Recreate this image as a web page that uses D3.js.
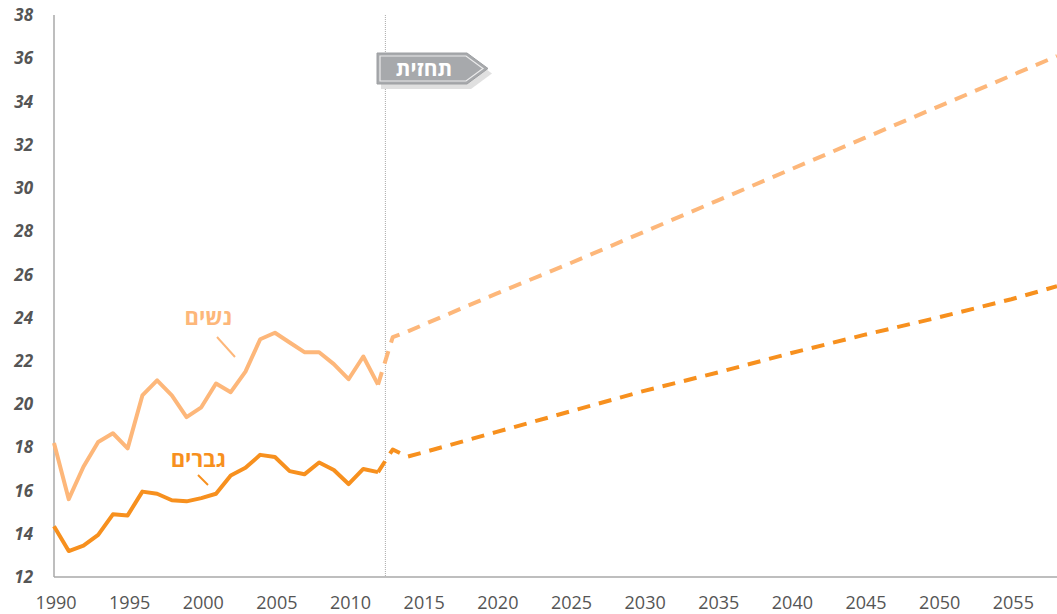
<!DOCTYPE html>
<html>
<head>
<meta charset="utf-8">
<script src="https://cdn.jsdelivr.net/npm/d3@7"></script>
<style>
  body { margin: 0; background: #fff; }
  svg { display: block; font-family: "Open Sans", "Noto Sans", sans-serif; }
</style>
</head>
<body>
<div id="chart"></div>
<script>
// actual values, 1990-2012
const years = d3.range(1990, 2013);
const women = [18.2, 15.6, 17.1, 18.25, 18.65, 17.95, 20.4, 21.1, 20.4, 19.4, 19.85,
  20.95, 20.55, 21.5, 23.0, 23.3, 22.85, 22.4, 22.4, 21.85, 21.15, 22.2, 20.9];
const men = [14.35, 13.2, 13.45, 13.95, 14.9, 14.85, 15.95, 15.85, 15.55, 15.5, 15.65,
  15.85, 16.7, 17.05, 17.65, 17.55, 16.9, 16.75, 17.3, 16.95, 16.3, 17.0, 16.85];

// forecast (dashed)
const forecastYears = [2012, 2013, 2014, 2015, 2020, 2025, 2030, 2035, 2040, 2045, 2050, 2055, 2058.1];
const womenForecast = [20.9, 23.1, 23.35, 23.65, 25.1, 26.5, 27.95, 29.4, 30.85, 32.3, 33.75, 35.2, 36.1];
const menForecast = [16.85, 17.9, 17.57, 17.75, 18.7, 19.65, 20.6, 21.45, 22.35, 23.2, 24.0, 24.85, 25.45];

const xTicks = d3.range(1990, 2056, 5);
const yTicks = d3.range(12, 39, 2);
const forecastStart = 2012.5;

const colWomen = "#fdb77a", colMen = "#f7901e";

const width = 1057, height = 614;

const svg = d3.select("#chart")
  .append("svg")
    .attr("width", width)
    .attr("height", height);

const x = d3.scaleLinear().domain([1990, 2058.1]).range([54, 1057]);
const y = d3.scaleLinear().domain([12, 38]).range([577, 15]);

// axis lines
svg.append("line")
  .attr("x1", x(1990)).attr("x2", x(1990))
  .attr("y1", y(38)).attr("y2", y(12))
  .attr("stroke", "#a8a8a8").attr("stroke-width", 1.5);
svg.append("line")
  .attr("x1", x(1990)).attr("x2", width)
  .attr("y1", y(12)).attr("y2", y(12))
  .attr("stroke", "#a8a8a8").attr("stroke-width", 1.5);

// y tick labels
svg.append("g").selectAll("text")
  .data(yTicks)
  .enter().append("text")
    .attr("x", 33)
    .attr("y", d => y(d))
    .attr("dy", "0.36em")
    .attr("text-anchor", "end")
    .attr("font-size", 17)
    .attr("font-weight", "bold")
    .attr("font-style", "italic")
    .attr("fill", "#555")
    .text(d => d);

// x tick labels
svg.append("g").selectAll("text")
  .data(xTicks)
  .enter().append("text")
    .attr("x", d => x(d) + 2)
    .attr("y", 609)
    .attr("text-anchor", "middle")
    .attr("font-size", 18)
    .attr("fill", "#555")
    .text(d => d);

// forecast divider
svg.append("line")
  .attr("x1", x(forecastStart)).attr("x2", x(forecastStart))
  .attr("y1", y(38)).attr("y2", y(12))
  .attr("stroke", "#aaa").attr("stroke-width", 1)
  .attr("stroke-dasharray", "1,1");

const line = d3.line()
  .x(d => x(d[0]))
  .y(d => y(d[1]));

function drawSeries(xs, vals, color, dashed) {
  svg.append("path")
    .datum(d3.zip(xs, vals))
    .attr("fill", "none")
    .attr("stroke", color)
    .attr("stroke-width", 4)
    .attr("stroke-linejoin", "round")
    .attr("stroke-dasharray", dashed ? "13,9" : null)
    .attr("d", line);
}

drawSeries(years, women, colWomen, false);
drawSeries(years, men, colMen, false);
drawSeries(forecastYears, womenForecast, colWomen, true);
drawSeries(forecastYears, menForecast, colMen, true);

// series labels with leader lines
svg.append("text")
  .attr("x", 232).attr("y", 325)
  .attr("text-anchor", "end")
  .attr("font-size", 22).attr("font-weight", "bold")
  .attr("fill", colWomen)
  .text("נשים");
svg.append("line")
  .attr("x1", 217).attr("y1", 337).attr("x2", 235).attr("y2", 357)
  .attr("stroke", colWomen).attr("stroke-width", 2);

svg.append("text")
  .attr("x", 226).attr("y", 467)
  .attr("text-anchor", "end")
  .attr("font-size", 22).attr("font-weight", "bold")
  .attr("fill", colMen)
  .text("גברים");
svg.append("line")
  .attr("x1", 198).attr("y1", 475).attr("x2", 208).attr("y2", 485)
  .attr("stroke", colMen).attr("stroke-width", 2);

// "forecast" badge
const bx = 377, by = 53, bw = 90, bh = 31, tip = 21;
const badge = d3.path();
badge.moveTo(bx, by);
badge.lineTo(bx + bw, by);
badge.lineTo(bx + bw + tip, by + bh / 2);
badge.lineTo(bx + bw, by + bh);
badge.lineTo(bx, by + bh);
badge.closePath();

const inner = d3.path();
inner.moveTo(bx + 3, by + 3);
inner.lineTo(bx + bw - 1, by + 3);
inner.lineTo(bx + bw + tip - 5, by + bh / 2);
inner.lineTo(bx + bw - 1, by + bh - 3);
inner.lineTo(bx + 3, by + bh - 3);
inner.closePath();

svg.append("path")
  .attr("d", badge.toString())
  .attr("transform", "translate(4,5)")
  .attr("fill", "#e0e0e0");
svg.append("path")
  .attr("d", badge.toString())
  .attr("fill", "#a7a9ac")
  .attr("stroke", "#9d9fa2")
  .attr("stroke-width", 1);
svg.append("path")
  .attr("d", inner.toString())
  .attr("fill", "none")
  .attr("stroke", "#ececec")
  .attr("stroke-width", 1.2);
svg.append("text")
  .attr("x", bx + 47).attr("y", by + 23)
  .attr("text-anchor", "middle")
  .attr("font-size", 21).attr("font-weight", "bold")
  .attr("fill", "#fff")
  .text("תחזית");
</script>
</body>
</html>
